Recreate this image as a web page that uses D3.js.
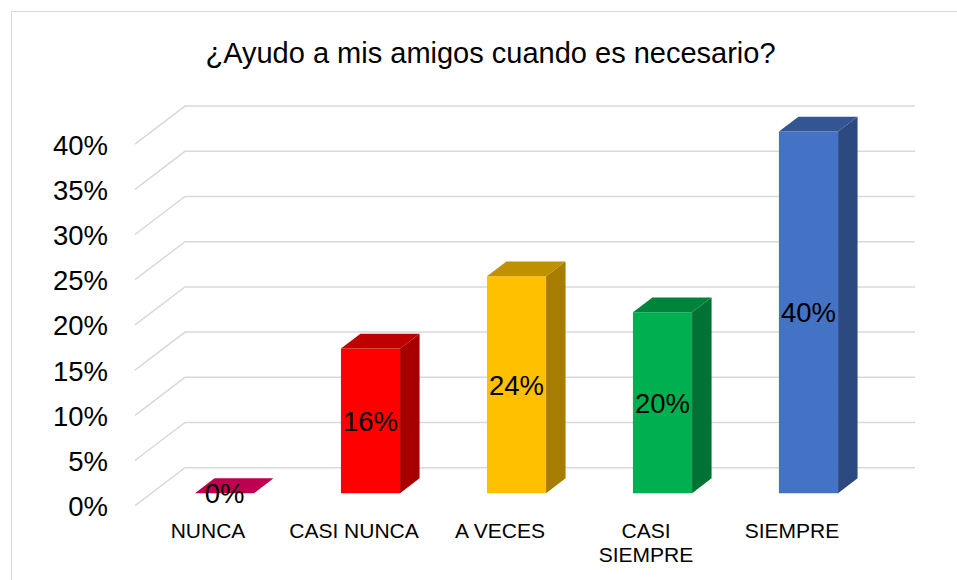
<!DOCTYPE html>
<html lang="es">
<head>
    <meta charset="UTF-8">
    <script src="https://d3js.org/d3.v7.min.js"></script>
    <style>
        body { margin: 0; background: #fff; }
        text { font-family: Arial, "Liberation Sans", sans-serif; fill: #000; }
        .grid { stroke: #d9d9d9; stroke-width: 1.5; fill: none; }
    </style>
    <title>¿Ayudo a mis amigos cuando es necesario?</title>
</head>
<body>
    <div id="chart"></div>
    <script>
        const categories = ['NUNCA', 'CASI NUNCA', 'A VECES', 'CASI SIEMPRE', 'SIEMPRE'];
        const values = [0, 0.16, 0.24, 0.20, 0.40];
        const tickValues = [0, 0.05, 0.10, 0.15, 0.20, 0.25, 0.30, 0.35, 0.40];
        const colors = ['#ff006b', '#ff0000', '#ffc000', '#00b050', '#4472c4'];

        var width = 957, height = 580;

        // floor front-left corner and depth vector (oblique 3d)
        var x0 = 135, y0 = 505.7;
        var depthX = 50, depthY = -38;
        var barD1 = 0.33, barD2 = 0.72;

        var xScale = d3.scaleBand().domain(categories).range([0, 730]);
        var hScale = d3.scaleLinear().domain([0, 0.40]).range([0, 361.6]);
        var barW = xScale.bandwidth() * 0.405;

        function pt(x, v, d) {
            return [x0 + x + d * depthX, y0 - hScale(v) + d * depthY];
        }

        function shade(c, k) {
            var r = d3.rgb(c);
            return d3.rgb(r.r * k, r.g * k, r.b * k).formatHex();
        }

        var svg = d3.select("#chart")
            .append("svg")
            .attr("width", width)
            .attr("height", height);

        svg.append("rect")
            .attr("x", 11.5).attr("y", 11.5)
            .attr("width", width + 10).attr("height", height + 10)
            .attr("fill", "#fff")
            .attr("stroke", "#d9d9d9")
            .attr("stroke-width", 1);

        svg.append("text")
            .attr("x", 490.5)
            .attr("y", 62.5)
            .attr("text-anchor", "middle")
            .attr("font-size", "29px")
            .text("¿Ayudo a mis amigos cuando es necesario?");

        // gridlines: side wall diagonal + back wall line
        var grid = svg.append("g");
        tickValues.forEach(function(v) {
            var a = pt(0, v, 0), b = pt(0, v, 1), c = pt(730, v, 1);
            grid.append("path")
                .attr("class", "grid")
                .attr("d", "M" + a + "L" + b + "L" + c);
        });

        // y axis labels on the front edge
        var yFront = d3.scaleLinear().domain([0, 0.40]).range([y0, y0 - 361.6]);
        var yAxis = svg.append("g")
            .attr("transform", "translate(108,0)")
            .call(d3.axisLeft(yFront).tickValues(tickValues).tickSize(0).tickPadding(0)
                .tickFormat(d3.format(".0%")));
        yAxis.select(".domain").remove();
        yAxis.selectAll("text")
            .attr("font-size", "27.5px")
            .attr("font-family", "Arial, 'Liberation Sans', sans-serif")
            .attr("fill", "#000")
            .attr("dy", "0.36em");

        // bars
        var bars = svg.append("g");
        categories.forEach(function(cat, i) {
            var v = values[i];
            var xl = xScale(cat) + (xScale.bandwidth() - barW) / 2;
            var xr = xl + barW;
            var col = colors[i];

            var fbl = pt(xl, 0, barD1), ftr = pt(xr, v, barD1), ftl = pt(xl, v, barD1), fbr = pt(xr, 0, barD1);
            var btl = pt(xl, v, barD2), btr = pt(xr, v, barD2), bbr = pt(xr, 0, barD2);

            if (v > 0) {
                bars.append("path")
                    .attr("d", "M" + fbr + "L" + bbr + "L" + btr + "L" + ftr + "Z")
                    .attr("fill", shade(col, 0.65));
                bars.append("path")
                    .attr("d", "M" + fbl + "L" + fbr + "L" + ftr + "L" + ftl + "Z")
                    .attr("fill", col);
            }
            bars.append("path")
                .attr("d", "M" + ftl + "L" + ftr + "L" + btr + "L" + btl + "Z")
                .attr("fill", shade(col, 0.75));

            bars.append("text")
                .attr("x", (fbl[0] + fbr[0]) / 2)
                .attr("y", (fbl[1] + ftl[1]) / 2)
                .attr("dy", "0.36em")
                .attr("text-anchor", "middle")
                .attr("font-size", "27.5px")
                .text(d3.format(".0%")(v));
        });

        // category labels on the front edge
        var labels = svg.append("g");
        categories.forEach(function(cat) {
            var t = labels.append("text")
                .attr("x", x0 + xScale(cat) + xScale.bandwidth() / 2)
                .attr("y", 537.5)
                .attr("text-anchor", "middle")
                .attr("font-size", "21px")
                .text(cat);
            if (t.node().getComputedTextLength() > 140) {
                var words = cat.split(" ");
                t.text(null);
                words.forEach(function(w, j) {
                    t.append("tspan")
                        .attr("x", t.attr("x"))
                        .attr("dy", j === 0 ? 0 : 24.3)
                        .text(w);
                });
            }
        });
    </script>
</body>
</html>
